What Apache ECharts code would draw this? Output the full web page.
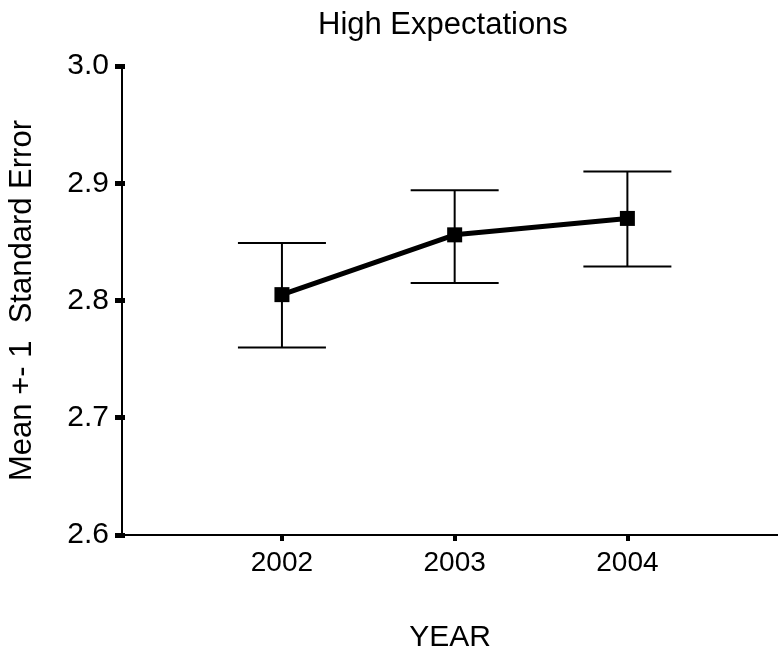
<!DOCTYPE html>
<html>
<head>
<meta charset="utf-8">
<title>High Expectations</title>
<script src="https://cdn.jsdelivr.net/npm/echarts@6/dist/echarts.min.js"></script>
<style>
  html, body { margin: 0; padding: 0; background: #fff; }
  #chart { width: 778px; height: 648px; }
</style>
</head>
<body>
<div id="chart"></div>
<script>
// Survey years and the mean score with its +/- 1 standard error bounds
const years = [2002, 2003, 2004];
const means = [2.805, 2.856, 2.870];
const upper = [2.849, 2.894, 2.910];
const lower = [2.760, 2.815, 2.829];
const yTicks = [2.6, 2.7, 2.8, 2.9, 3.0];

const FONT = '"Liberation Sans", Arial, Helvetica, sans-serif';
const CAP_HALF = 44; // half-width of the error bar caps, in pixels

const meanPoints = years.map((y, i) => [y, means[i]]);
const barPoints = years.map((y, i) => [y, lower[i], upper[i]]);

const chart = echarts.init(document.getElementById('chart'), null, { renderer: 'canvas' });

const xAxisBase = {
  type: 'value',
  min: 2001.074,
  max: 2004.872,
  splitLine: { show: false }
};
const yAxisBase = {
  type: 'value',
  min: yTicks[0],
  max: yTicks[yTicks.length - 1],
  interval: 0.1,
  splitLine: { show: false }
};

chart.setOption({
  animation: false,
  backgroundColor: '#ffffff',
  title: {
    text: 'High Expectations',
    left: 313,
    top: 5,
    textStyle: { fontFamily: FONT, fontSize: 31, fontWeight: 'normal', color: '#000' }
  },
  grid: { left: 122, right: 0, top: 66, bottom: 113, outerBoundsMode: 'none', containLabel: false },
  xAxis: [
    Object.assign({}, xAxisBase, {
      name: 'YEAR',
      nameLocation: 'middle',
      nameGap: 88,
      nameTextStyle: { fontFamily: FONT, fontSize: 30, color: '#000' },
      axisLine: { show: true, onZero: false, lineStyle: { color: '#000', width: 2 } },
      axisTick: { show: true, inside: false, length: 6, customValues: years,
                  lineStyle: { color: '#000', width: 4 } },
      axisLabel: { show: true, margin: 14, customValues: years,
                   fontFamily: FONT, fontSize: 28, color: '#000',
                   formatter: v => String(Math.round(v)) }
    })
  ],
  yAxis: [
    Object.assign({}, yAxisBase, {
      name: 'Mean +- 1  Standard Error',
      nameLocation: 'middle',
      nameGap: 84,
      nameRotate: 90,
      nameTextStyle: { fontFamily: FONT, fontSize: 31, color: '#000' },
      axisLine: { show: true, onZero: false, lineStyle: { color: '#000', width: 2 } },
      axisTick: { show: true, inside: false, length: 7, lineStyle: { color: '#000', width: 5 } },
      axisLabel: { show: true, margin: 13, fontFamily: FONT, fontSize: 30, color: '#000',
                   formatter: v => v.toFixed(1) }
    }),
    // inner stubs of the y ticks that cross the axis line
    Object.assign({}, yAxisBase, {
      position: 'left',
      axisLine: { show: false },
      axisTick: { show: true, inside: true, length: 3, lineStyle: { color: '#000', width: 5 } },
      axisLabel: { show: false }
    })
  ],
  series: [
    {
      type: 'custom',
      name: 'error',
      xAxisIndex: 0,
      yAxisIndex: 0,
      data: barPoints,
      z: 2,
      renderItem: function (params, api) {
        const x = api.value(0);
        const lo = api.coord([x, api.value(1)]);
        const hi = api.coord([x, api.value(2)]);
        const style = { stroke: '#000', lineWidth: 2 };
        return {
          type: 'group',
          children: [
            { type: 'line', shape: { x1: lo[0], y1: lo[1], x2: hi[0], y2: hi[1] }, style: style },
            { type: 'line', shape: { x1: hi[0] - CAP_HALF, y1: hi[1], x2: hi[0] + CAP_HALF, y2: hi[1] }, style: style },
            { type: 'line', shape: { x1: lo[0] - CAP_HALF, y1: lo[1], x2: lo[0] + CAP_HALF, y2: lo[1] }, style: style }
          ]
        };
      }
    },
    {
      type: 'line',
      name: 'mean',
      xAxisIndex: 0,
      yAxisIndex: 0,
      data: meanPoints,
      z: 3,
      symbol: 'rect',
      symbolSize: 15,
      showSymbol: true,
      itemStyle: { color: '#000' },
      lineStyle: { color: '#000', width: 5 }
    }
  ]
});
</script>
</body>
</html>
